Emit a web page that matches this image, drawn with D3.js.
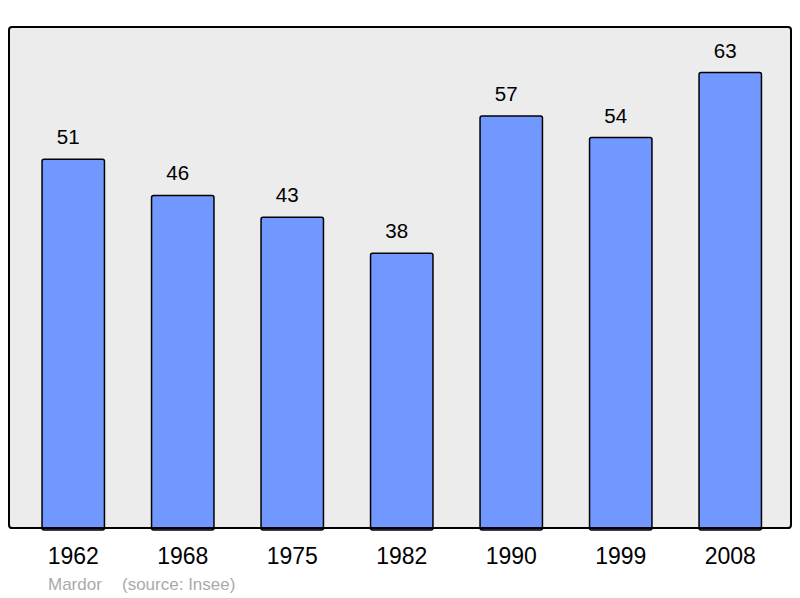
<!doctype html>
<meta charset="utf-8">
<script src="https://d3js.org/d3.v7.min.js"></script>
<style>
body { margin: 0; background: #fff; }
text { font-family: "Liberation Sans", Arial, sans-serif; }
</style>
<body>
<script>

var years = ["1962", "1968", "1975", "1982", "1990", "1999", "2008"];
var population = [51, 46, 43, 38, 57, 54, 63];

var width = 800;
var height = 598;
var plot = {left: 9, top: 27, right: 791, bottom: 528};

var svg = d3.select("body")
        .append("svg")
        .attr("width", width)
        .attr("height", height);

svg.append("rect")
        .attr("x", plot.left)
        .attr("y", plot.top)
        .attr("width", plot.right - plot.left)
        .attr("height", plot.bottom - plot.top)
        .attr("rx", 3)
        .style("fill", "#ececec")
        .style("stroke", "#000")
        .style("stroke-width", 2);

var x = d3.scaleBand()
        .domain(years)
        .range([18.5, 785])
        .paddingInner(0.43)
        .paddingOuter(0.215);

var y = d3.scaleLinear()
        .domain([0, d3.max(population) * 1.1])
        .range([plot.bottom, plot.top]);

var data = years.map(function(d, i) { return {year: d, value: population[i]}; });

svg.selectAll("rect.bar")
        .data(data)
        .enter().append("rect")
        .classed("bar", true)
        .attr("x", function(d) { return x(d.year); })
        .attr("y", function(d) { return y(d.value); })
        .attr("width", x.bandwidth())
        .attr("height", function(d) { return plot.bottom - y(d.value) + 2; })
        .attr("rx", 2)
        .style("fill", "#7098ff")
        .style("stroke", "#000")
        .style("stroke-width", 1.5);

// redraw the bottom frame line over the bars
svg.append("line")
        .attr("x1", plot.left + 1)
        .attr("x2", plot.right - 1)
        .attr("y1", plot.bottom)
        .attr("y2", plot.bottom)
        .style("stroke", "#000")
        .style("stroke-width", 2);

// value labels sit a little left of the bar centre in the original
svg.selectAll("text.value")
        .data(data)
        .enter().append("text")
        .classed("value", true)
        .attr("x", function(d) { return x(d.year) + x.bandwidth() / 2 - 5; })
        .attr("y", function(d) { return y(d.value) - 15; })
        .attr("text-anchor", "middle")
        .style("font-size", "20.5px")
        .text(function(d) { return d.value; });

var xAxis = svg.append("g")
        .attr("transform", "translate(0," + plot.bottom + ")")
        .call(d3.axisBottom(x).tickSize(0).tickPadding(36));
xAxis.select(".domain").remove();
xAxis.selectAll("text")
        .attr("dy", 0)
        .style("font-family", "'Liberation Sans', Arial, sans-serif")
        .style("font-size", "23px")
        .style("fill", "#000");

svg.append("text")
        .attr("x", 48)
        .attr("y", 590)
        .style("font-size", "17px")
        .style("fill", "#aaa")
        .text("Mardor");

svg.append("text")
        .attr("x", 122)
        .attr("y", 590)
        .style("font-size", "17px")
        .style("fill", "#aaa")
        .text("(source: Insee)");

</script>
